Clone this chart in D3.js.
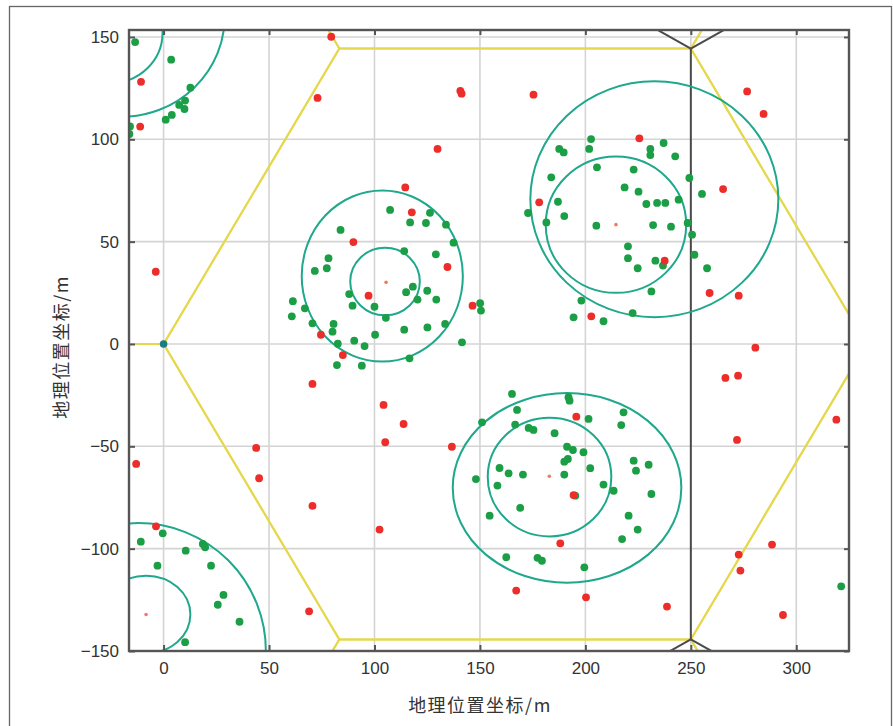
<!DOCTYPE html>
<html>
<head>
<meta charset="utf-8">
<script src="https://cdn.jsdelivr.net/npm/d3@7"></script>
<style>
  html, body { margin: 0; padding: 0; background: #fff; }
  svg { display: block; }
</style>
</head>
<body>
<svg id="chart" width="893" height="726"></svg>
<script>
// ---------------- DATA ----------------
const xTicks = [0, 50, 100, 150, 200, 250, 300];
const yTicks = [-150, -100, -50, 0, 50, 100, 150];
const axisTitle = "地理位置坐标/m";

// served users (green)
const greenX = [-13.5, 3.6, 12.7, 10.2, 7.4, 9.9, 3.9, 1.0, -15.9, -16.2,
  107.4, 116.9, 124.4, 126.3, 133.9, 137.5, 129.1, 114.1, 83.9, 78.2, 77.4, 71.7, 61.3, 60.8, 67.0, 70.6, 80.6, 80.1, 82.6, 82.2, 94.0, 90.4, 95.3, 100.3, 89.6, 88.0, 100.0, 105.4, 114.1, 116.6, 125.1, 133.5, 141.5, 129.3, 125.0, 120.4, 118.2, 115.0, 150.1, 150.5,
  202.7, 201.8, 187.6, 189.7, 230.8, 230.8, 237.1, 242.6, 205.5, 222.9, 183.8, 218.6, 225.2, 249.3, 255.3, 187.0, 172.8, 190.0, 181.5, 205.2, 228.9, 234.0, 237.9, 244.2, 232.1, 240.6, 248.5, 250.6, 220.2, 220.2, 224.8, 233.2, 236.8, 251.7, 257.7, 231.3, 198.1, 194.4, 208.6, 222.4,
  165.2, 192.0, 192.5, 167.6, 151.0, 166.7, 173.1, 175.4, 185.4, 201.5, 218.1, 217.0, 191.3, 194.1, 199.1, 191.7, 190.0, 202.3, 222.9, 224.0, 230.0, 159.3, 163.6, 170.4, 190.0, 148.1, 158.3, 208.6, 213.4, 231.3, 195.2, 169.1, 154.6, 220.5, 224.8, 217.4, 162.5, 177.3, 179.4, 199.5,
  -0.4, -10.8, 10.5, 18.6, 19.7, -2.9, 22.5, 28.4, 25.7, 36.0, 10.2,
  321.3];
const greenY = [147.5, 138.9, 125.2, 118.9, 116.8, 114.8, 111.9, 109.6, 106.3, 102.6,
  65.5, 59.4, 59.1, 64.1, 58.3, 49.5, 43.8, 45.4, 55.7, 41.9, 37.0, 35.7, 20.9, 13.5, 17.4, 10.1, 9.8, 6.0, 0.1, -10.3, -10.6, 1.6, -1.0, 4.5, 18.7, 24.4, 18.2, 12.8, 7.0, -7.0, 8.1, 9.8, 0.8, 21.7, 26.0, 21.7, 28.0, 25.3, 19.9, 16.3,
  100.1, 95.3, 95.3, 93.6, 95.3, 92.3, 98.2, 91.7, 86.3, 85.2, 81.4, 76.5, 74.4, 81.1, 73.3, 69.5, 64.0, 62.5, 59.4, 57.8, 68.4, 68.9, 68.9, 70.5, 58.1, 57.3, 59.1, 53.4, 47.7, 41.9, 37.0, 40.7, 38.3, 43.6, 37.0, 25.7, 21.2, 13.0, 11.1, 15.1,
  -24.4, -26.0, -27.7, -32.2, -38.3, -39.4, -41.0, -42.0, -43.6, -36.6, -33.4, -39.6, -50.2, -51.8, -52.9, -56.2, -57.5, -60.7, -57.0, -61.9, -59.0, -60.6, -63.2, -63.8, -63.8, -66.0, -69.2, -68.7, -71.7, -73.3, -74.1, -80.1, -83.9, -83.9, -90.7, -95.3, -104.2, -104.5, -105.9, -109.1,
  -92.5, -96.6, -101.0, -97.7, -99.3, -108.3, -108.3, -122.6, -127.4, -135.7, -145.7,
  -118.4];

// unserved users (red)
const redX = [-10.7, -11.1, 79.5, 73.0, 140.7, 141.3, 175.4, 129.9, 114.6, 117.7, 90.0, 134.6, 97.2, 146.5, 74.6, 85.0, -3.7,
  225.6, 178.1, 265.3, 276.7, 284.5, 237.6, 258.9, 272.7, 202.8, 280.6, 266.4, 272.4, 319.0, 271.9,
  195.7, 136.7, 194.4, 188.1, 167.2, 200.3, 70.6, 104.3, 113.8, 105.1, 43.9, -13.0, 45.3, 70.6, 102.4, -3.6, 69.0,
  238.7, 272.7, 273.5, 288.5, 293.7];
const redY = [128.1, 106.2, 150.1, 120.2, 123.7, 122.3, 121.8, 95.3, 76.5, 64.3, 49.8, 37.6, 23.6, 18.7, 4.5, -5.4, 35.3,
  100.5, 69.2, 75.7, 123.4, 112.4, 40.7, 24.9, 23.6, 13.5, -1.8, -16.6, -15.5, -37.0, -46.9,
  -35.5, -50.2, -73.8, -97.4, -120.5, -123.8, -19.5, -29.8, -39.1, -48.0, -50.8, -58.6, -65.6, -79.1, -90.7, -89.1, -130.6,
  -128.3, -102.9, -110.7, -98.0, -132.4];

// hotspot centres (small red marks)
const hotspotX = [105.5, 214.5, 182.9, -8.3];
const hotspotY = [30.1, 58.3, -64.6, -132.2];

// hotspot coverage rings
const ringCx = [-25, -20, 105, 103.7, 214.5, 232.7, 183, 191.3, -8.3, -12];
const ringCy = [152, 160, 30.5, 33.2, 58.3, 70.7, -65, -70.3, -132.2, -150];
const ringRx = [24.5, 49, 16.5, 38.2, 33.3, 58.8, 29.3, 54.2, 21, 60.5];
const ringRy = [24.5, 49, 16.5, 41.8, 33.3, 57.6, 29.0, 46.3, 19, 62.5];

// base station
const stationX = [0];
const stationY = [0];

// hexagonal cell layout
const hexRadius = 166.67;
const hexCenterX = [166.67, 416.67, 416.67, -83.33, -83.33, 166.67, 166.67];
const hexCenterY = [0, 144.34, -144.34, 144.34, -144.34, 288.68, -288.68];

// sector boundary lines of neighbouring sites
const siteX = [250, 250];
const siteY = [144.34, -144.34];
const siteAngles = [[30, 150, 270], [90, 210, 330]];

// ---------------- CHART ----------------
const svg = d3.select("#chart");
const L = 129, R = 849, T = 30, B = 651;

const x = d3.scaleLinear().domain([-16.4, 325]).range([L, R]);
const y = d3.scaleLinear().domain([-150, 153.4]).range([B, T]);

// outer frame
svg.append("rect")
  .attr("x", 9.5).attr("y", 6.5).attr("width", 882).attr("height", 760)
  .attr("fill", "none").attr("stroke", "#666").attr("stroke-width", 1.3);

svg.append("defs").append("clipPath").attr("id", "clip")
  .append("rect").attr("x", L).attr("y", T).attr("width", R - L).attr("height", B - T);

// grid
const grid = svg.append("g").attr("clip-path", "url(#clip)");
grid.selectAll("line.gx").data(xTicks).join("line")
  .attr("x1", d => x(d)).attr("x2", d => x(d)).attr("y1", T).attr("y2", B)
  .attr("stroke", "#d4d4d4").attr("stroke-width", 1.6);
grid.selectAll("line.gy").data(yTicks).join("line")
  .attr("y1", d => y(d)).attr("y2", d => y(d)).attr("x1", L).attr("x2", R)
  .attr("stroke", "#d4d4d4").attr("stroke-width", 1.6);

const plot = svg.append("g").attr("clip-path", "url(#clip)");

// hexagons
const hexData = hexCenterX.map((cx, i) => {
  const pts = d3.range(7).map(k => {
    const a = Math.PI / 3 * k;
    return [cx + hexRadius * Math.cos(a), hexCenterY[i] + hexRadius * Math.sin(a)];
  });
  return pts;
});
const line = d3.line().x(d => x(d[0])).y(d => y(d[1]));
plot.selectAll("path.hex").data(hexData).join("path")
  .attr("d", line).attr("fill", "none")
  .attr("stroke", "#e6d84e").attr("stroke-width", 2);

// sector boundary lines
const segs = [];
siteX.forEach((sx, i) => {
  siteAngles[i].forEach(a => {
    const rad = a * Math.PI / 180;
    const len = (a === 90 || a === 270) ? 144.34 : 60;
    segs.push([[sx, siteY[i]], [sx + len * Math.cos(rad), siteY[i] + len * Math.sin(rad)]]);
  });
});
plot.selectAll("path.sec").data(segs).join("path")
  .attr("d", line).attr("fill", "none")
  .attr("stroke", "#4a4a4a").attr("stroke-width", 2);

// rings
plot.selectAll("ellipse.ring").data(ringCx).join("ellipse")
  .attr("cx", (d) => x(d))
  .attr("cy", (d, i) => y(ringCy[i]))
  .attr("rx", (d, i) => x(ringRx[i]) - x(0))
  .attr("ry", (d, i) => y(0) - y(ringRy[i]))
  .attr("fill", "none").attr("stroke", "#1fa88c").attr("stroke-width", 2);

// hotspot centres
plot.selectAll("circle.hs").data(hotspotX).join("circle")
  .attr("cx", d => x(d)).attr("cy", (d, i) => y(hotspotY[i]))
  .attr("r", 1.8).attr("fill", "#f07a6a");

// station
plot.selectAll("circle.st").data(stationX).join("circle")
  .attr("cx", d => x(d)).attr("cy", (d, i) => y(stationY[i]))
  .attr("r", 3.8).attr("fill", "#1d7d84");

// green points
plot.selectAll("circle.g").data(greenX).join("circle")
  .attr("cx", d => x(d)).attr("cy", (d, i) => y(greenY[i]))
  .attr("r", 3.9).attr("fill", "#1b9e45");

// red points
plot.selectAll("circle.r").data(redX).join("circle")
  .attr("cx", d => x(d)).attr("cy", (d, i) => y(redY[i]))
  .attr("r", 3.9).attr("fill", "#ec2d2a");

// frame
svg.append("rect").attr("x", L).attr("y", T).attr("width", R - L).attr("height", B - T)
  .attr("fill", "none").attr("stroke", "#555").attr("stroke-width", 2.4);

// axes
const tickStyle = g => {
  g.select(".domain").remove();
  g.selectAll(".tick line").attr("stroke", "#555").attr("stroke-width", 2);
  g.selectAll(".tick text").attr("fill", "#333")
    .style("font-family", "'Liberation Sans', Arial, sans-serif").style("font-size", "17px");
};
svg.append("g").attr("transform", `translate(0,${B})`)
  .call(d3.axisBottom(x).tickValues(xTicks).tickSize(-6).tickPadding(11).tickFormat(d3.format("d")))
  .call(tickStyle);
svg.append("g").attr("transform", `translate(${L},0)`)
  .call(d3.axisLeft(y).tickValues(yTicks).tickSize(-6).tickPadding(10).tickFormat(d => d < 0 ? "\u2212" + Math.abs(d) : d))
  .call(tickStyle);
svg.append("g").attr("transform", `translate(0,${T})`)
  .call(d3.axisTop(x).tickValues(xTicks).tickSize(-5).tickFormat(""))
  .call(tickStyle);
svg.append("g").attr("transform", `translate(${R},0)`)
  .call(d3.axisRight(y).tickValues(yTicks).tickSize(-5).tickFormat(""))
  .call(tickStyle);

// titles
svg.append("text").attr("x", 480).attr("y", 712).attr("text-anchor", "middle")
  .attr("fill", "#333").style("font-family", "'Noto Sans CJK SC', sans-serif")
  .style("font-size", "18px").style("letter-spacing", "1.5px").text(axisTitle);
svg.append("text").attr("transform", "translate(68,347) rotate(-90)").attr("text-anchor", "middle")
  .attr("fill", "#333").style("font-family", "'Noto Sans CJK SC', sans-serif")
  .style("font-size", "18px").style("letter-spacing", "1.5px").text(axisTitle);
</script>
</body>
</html>
